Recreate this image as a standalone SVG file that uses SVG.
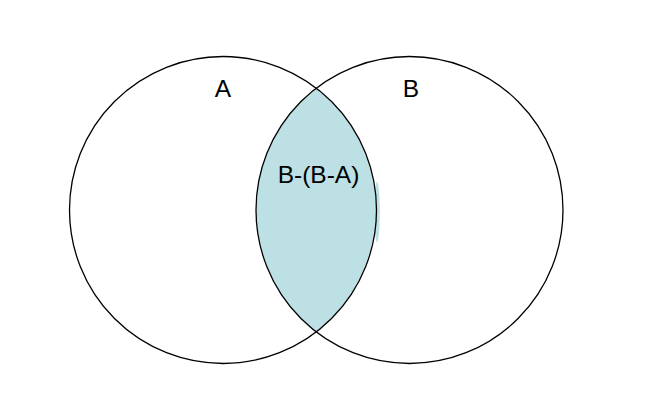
<svg xmlns="http://www.w3.org/2000/svg" width="649" height="401" viewBox="0 0 649 401">
<style>
.ring{fill:none;stroke:#000;stroke-width:1.3}
.lbl{font-family:"Liberation Sans",Arial,sans-serif;font-size:24.5px;fill:#000;text-anchor:middle}
.fill{fill:#bce0e4;stroke:none}
</style>
<rect width="649" height="401" fill="#fff"/>
<g id="intersection">
<ellipse class="fill" cx="377" cy="212" rx="2.8" ry="30"/>
<path class="fill" d="M316,88.5 A153.5,153.5 0 0 1 316,331.5 A153.5,153.5 0 0 1 316,88.5 Z"/>
</g>
<g id="setA">
<circle class="ring" cx="223" cy="210" r="153.5"/>
<text class="lbl" x="223" y="97">A</text>
</g>
<g id="setB">
<circle class="ring" cx="409.5" cy="210" r="153.5"/>
<text class="lbl" x="411" y="97">B</text>
</g>
<g id="label">
<text class="lbl" x="318.5" y="183">B-(B-A)</text>
</g>
</svg>
